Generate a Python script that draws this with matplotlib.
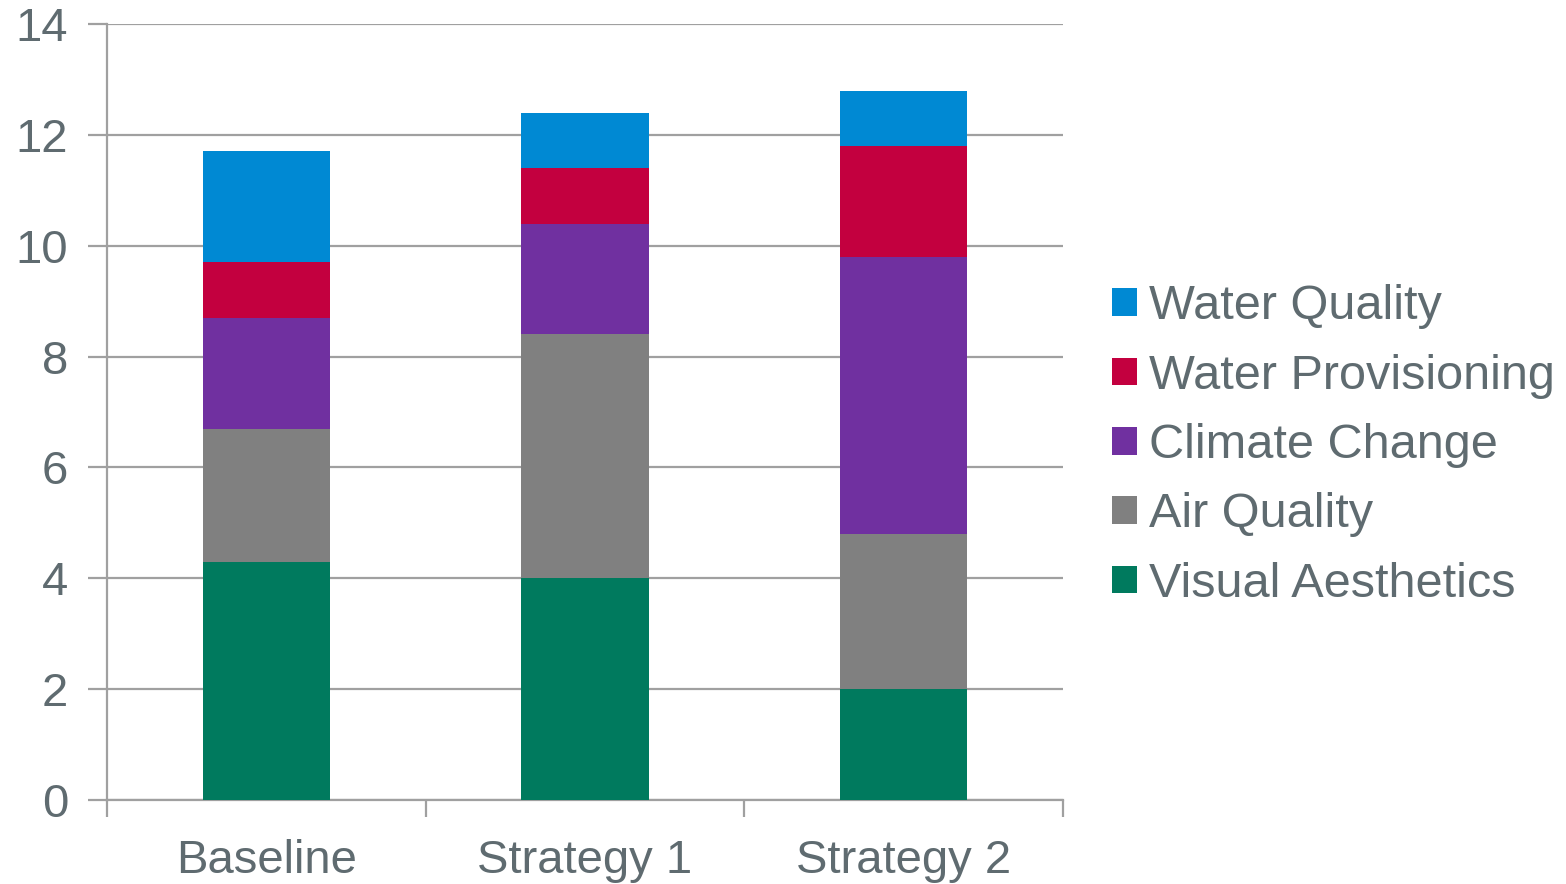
import matplotlib
matplotlib.use('Agg')
import matplotlib.pyplot as plt
from matplotlib.patches import Patch
import numpy as np

# Stacked scores per scenario
scenarios = ['Baseline', 'Strategy 1', 'Strategy 2']
series = ['Visual Aesthetics', 'Air Quality', 'Climate Change',
          'Water Provisioning', 'Water Quality']
visual_aesthetics = [4.3, 4.0, 2.0]
air_quality = [2.4, 4.4, 2.8]
climate_change = [2.0, 2.0, 5.0]
water_provisioning = [1.0, 1.0, 2.0]
water_quality = [2.0, 1.0, 1.0]
colors = ['#007A5E', '#808080', '#7030A0', '#C3003F', '#0089D3']

text_col = '#5F6B70'
line_col = '#A0A0A0'

plt.rcParams['font.family'] = ['Liberation Sans', 'DejaVu Sans']

fig = plt.figure(figsize=(15.66, 8.84), dpi=100)
ax = fig.add_axes([107 / 1566, 84 / 884, 956 / 1566, 776 / 884])

x = np.arange(len(scenarios))
bottom = np.zeros(len(scenarios))
values = [visual_aesthetics, air_quality, climate_change,
          water_provisioning, water_quality]
for vals, col in zip(values, colors):
    ax.bar(x, vals, width=0.4, bottom=bottom, color=col, zorder=3)
    bottom += np.array(vals)

ax.set_xlim(-0.5, 2.5)
ax.set_ylim(0, 14)
ax.set_yticks(np.arange(0, 15, 2))
ax.yaxis.grid(True, color=line_col, linewidth=1.6, zorder=0)

# category labels in the middle, tick marks between categories
ax.set_xticks(x)
ax.set_xticklabels(scenarios)
ax.set_xticks([-0.5, 0.5, 1.5, 2.5], minor=True)
ax.tick_params(axis='x', which='major', length=0, pad=28,
               labelsize=34, labelcolor=text_col)
ax.tick_params(axis='x', which='minor', length=12, width=1.6, color=line_col)
ax.tick_params(axis='y', length=14, width=1.6, color=line_col,
               labelsize=34, labelcolor=text_col, pad=14)

for side in ['top', 'right']:
    ax.spines[side].set_visible(False)
for side in ['left', 'bottom']:
    ax.spines[side].set_color(line_col)
    ax.spines[side].set_linewidth(1.6)

handles = [Patch(facecolor=c) for c in colors[::-1]]
leg = fig.legend(handles, series[::-1], loc='center left',
                 bbox_to_anchor=(1088 / 1566, 0.496), frameon=False,
                 fontsize=35, handlelength=0.5, handleheight=0.5,
                 handletextpad=0.25, labelspacing=0.5, borderpad=0)
for t in leg.get_texts():
    t.set_color(text_col)

fig.savefig('out.png', dpi=100)
